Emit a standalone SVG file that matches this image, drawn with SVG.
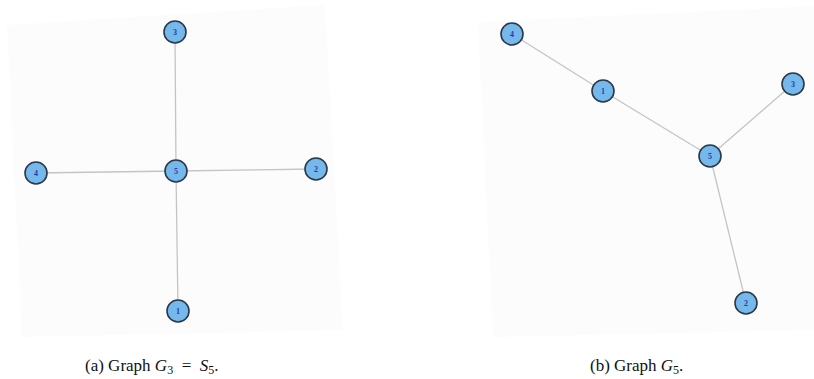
<svg xmlns="http://www.w3.org/2000/svg" width="814" height="379" viewBox="0 0 814 379">
<style>
.bg{fill:#fcfcfc;stroke:none}
.edge{stroke:#c4c4c4;stroke-width:1.3;fill:none}
.node circle{fill:#74b8ec;stroke:#2b3848;stroke-width:1.6}
.node text{font-family:"Liberation Serif",serif;font-size:8px;font-weight:bold;fill:#2a3aa8;text-anchor:middle;dominant-baseline:central}
.cap{font-family:"Liberation Serif","DejaVu Serif",serif;font-size:17px;fill:#111}
.it{font-style:italic}
</style>
<rect width="814" height="379" fill="#ffffff"/>
<polygon class="bg" points="7,25 325,5 343,330 22,337"/>
<polygon class="bg" points="478,22 814,6 814,330 493,337"/>
<g id="connectors">
<line class="edge" x1="175" y1="32" x2="176" y2="171"/>
<line class="edge" x1="36" y1="173" x2="176" y2="171"/>
<line class="edge" x1="176" y1="171" x2="316" y2="169"/>
<line class="edge" x1="176" y1="171" x2="178" y2="311"/>
<line class="edge" x1="512" y1="34" x2="603" y2="91"/>
<line class="edge" x1="603" y1="91" x2="710" y2="156"/>
<line class="edge" x1="710" y1="156" x2="793" y2="84"/>
<line class="edge" x1="710" y1="156" x2="746" y2="303"/>
</g>
<g id="a3" class="node"><circle cx="175" cy="32" r="11"/><text x="175" y="32">3</text></g>
<g id="a5" class="node"><circle cx="176" cy="171" r="11"/><text x="176" y="171">5</text></g>
<g id="a4" class="node"><circle cx="36" cy="173" r="11"/><text x="36" y="173">4</text></g>
<g id="a2" class="node"><circle cx="316" cy="169" r="11"/><text x="316" y="169">2</text></g>
<g id="a1" class="node"><circle cx="178" cy="311" r="11"/><text x="178" y="311">1</text></g>
<g id="b4" class="node"><circle cx="512" cy="34" r="11"/><text x="512" y="34">4</text></g>
<g id="b1" class="node"><circle cx="603" cy="91" r="11"/><text x="603" y="91">1</text></g>
<g id="b3" class="node"><circle cx="793" cy="84" r="11"/><text x="793" y="84">3</text></g>
<g id="b5" class="node"><circle cx="710" cy="156" r="11"/><text x="710" y="156">5</text></g>
<g id="b2" class="node"><circle cx="746" cy="303" r="11"/><text x="746" y="303">2</text></g>
<text class="cap" x="85" y="371">(a) Graph <tspan class="it">G</tspan><tspan font-size="12" dy="3">3</tspan><tspan dy="-3" xml:space="preserve">  =  </tspan><tspan class="it">S</tspan><tspan font-size="12" dy="3">5</tspan><tspan dy="-3">.</tspan></text>
<text class="cap" x="590" y="371">(b) Graph <tspan class="it">G</tspan><tspan font-size="12" dy="3">5</tspan><tspan dy="-3">.</tspan></text>
</svg>
